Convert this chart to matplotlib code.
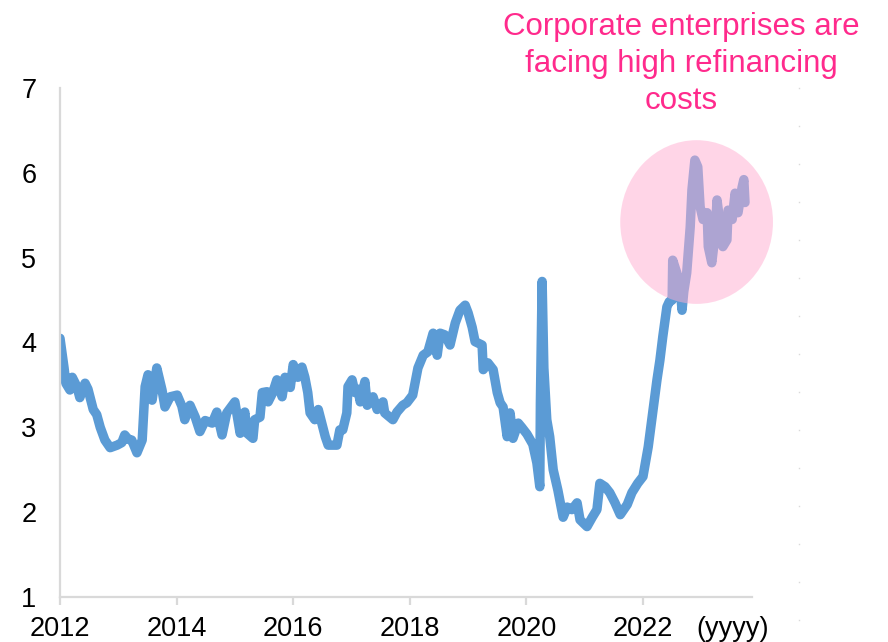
import matplotlib
matplotlib.use("Agg")
import matplotlib.pyplot as plt
from matplotlib.patches import Ellipse
from matplotlib.lines import Line2D
import matplotlib.transforms as mtransforms

plt.rcParams['font.family'] = ['Liberation Sans', 'DejaVu Sans']

# ---- data ----
years = [2012.00, 2012.03, 2012.07, 2012.10, 2012.17, 2012.21, 2012.29, 2012.34, 2012.43, 2012.48,
         2012.57, 2012.63, 2012.69, 2012.77, 2012.86, 2012.98, 2013.06, 2013.11, 2013.17, 2013.23,
         2013.32, 2013.41, 2013.46, 2013.51, 2013.58, 2013.66, 2013.75, 2013.80, 2013.89, 2014.01,
         2014.09, 2014.14, 2014.23, 2014.32, 2014.40, 2014.49, 2014.61, 2014.69, 2014.78, 2014.86,
         2015.00, 2015.09, 2015.17, 2015.21, 2015.31, 2015.34, 2015.43, 2015.47, 2015.55, 2015.57,
         2015.65, 2015.72, 2015.81, 2015.86, 2015.95, 2016.00, 2016.08, 2016.15, 2016.20, 2016.25,
         2016.29, 2016.37, 2016.43, 2016.49, 2016.55, 2016.60, 2016.75, 2016.80, 2016.85, 2016.92,
         2016.94, 2017.01, 2017.06, 2017.11, 2017.15, 2017.23, 2017.27, 2017.37, 2017.44, 2017.54,
         2017.57, 2017.71, 2017.78, 2017.88, 2017.95, 2018.05, 2018.14, 2018.23, 2018.31, 2018.40,
         2018.47, 2018.52, 2018.60, 2018.69, 2018.78, 2018.86, 2018.95, 2019.00, 2019.07, 2019.12,
         2019.24, 2019.26, 2019.34, 2019.43, 2019.50, 2019.55, 2019.60, 2019.67, 2019.72, 2019.77,
         2019.86, 2019.92, 2020.01, 2020.11, 2020.18, 2020.23, 2020.24, 2020.27, 2020.30, 2020.35,
         2020.40, 2020.46, 2020.54, 2020.63, 2020.70, 2020.78, 2020.87, 2020.92, 2021.04, 2021.13,
         2021.21, 2021.26, 2021.35, 2021.43, 2021.52, 2021.61, 2021.73, 2021.81, 2021.91, 2022.00,
         2022.09, 2022.15, 2022.24, 2022.29, 2022.34, 2022.41, 2022.45, 2022.50, 2022.51, 2022.58,
         2022.63, 2022.67, 2022.70, 2022.75, 2022.81, 2022.84, 2022.89, 2022.94, 2022.98, 2023.03,
         2023.10, 2023.12, 2023.18, 2023.24, 2023.27, 2023.32, 2023.37, 2023.44, 2023.46, 2023.53,
         2023.58, 2023.63, 2023.70, 2023.73, 2023.75]
values = [4.05, 3.90, 3.70, 3.52, 3.44, 3.59, 3.48, 3.35, 3.52, 3.45,
          3.21, 3.15, 3.00, 2.85, 2.76, 2.79, 2.82, 2.91, 2.86, 2.85,
          2.70, 2.85, 3.48, 3.62, 3.32, 3.70, 3.44, 3.24, 3.36, 3.38,
          3.25, 3.09, 3.26, 3.12, 2.95, 3.08, 3.05, 3.18, 2.91, 3.17,
          3.30, 2.93, 3.18, 2.93, 2.87, 3.09, 3.12, 3.41, 3.42, 3.30,
          3.41, 3.56, 3.36, 3.59, 3.47, 3.74, 3.59, 3.71, 3.59, 3.41,
          3.17, 3.09, 3.21, 3.05, 2.89, 2.79, 2.79, 2.97, 2.97, 3.17,
          3.48, 3.56, 3.41, 3.45, 3.30, 3.54, 3.26, 3.36, 3.21, 3.30,
          3.17, 3.09, 3.18, 3.26, 3.29, 3.38, 3.70, 3.85, 3.89, 4.11,
          3.85, 4.11, 4.09, 3.97, 4.23, 4.38, 4.44, 4.35, 4.18, 4.01,
          3.97, 3.68, 3.76, 3.68, 3.41, 3.29, 3.24, 2.89, 3.17, 2.87,
          3.05, 3.00, 2.92, 2.80, 2.58, 2.30, 3.29, 4.72, 3.70, 3.09,
          2.89, 2.50, 2.26, 1.94, 2.06, 2.03, 2.11, 1.91, 1.83, 1.94,
          2.03, 2.34, 2.30, 2.23, 2.11, 1.97, 2.09, 2.23, 2.34, 2.42,
          2.77, 3.09, 3.56, 3.79, 4.07, 4.42, 4.48, 4.50, 4.97, 4.82,
          4.70, 4.38, 4.60, 4.82, 5.36, 5.80, 6.15, 6.07, 5.60, 5.45,
          5.53, 5.13, 4.94, 5.29, 5.68, 5.41, 5.13, 5.21, 5.56, 5.45,
          5.76, 5.53, 5.83, 5.92, 5.65]
xtick_years = [2012, 2014, 2016, 2018, 2020, 2022]
xtick_labels = ['2012', '2014', '2016', '2018', '2020', '2022']
yticks = [1, 2, 3, 4, 5, 6, 7]
annotation = "Corporate enterprises are\nfacing high refinancing\ncosts"
x_unit = "(yyyy)"

LINE = '#5B9BD5'
GRID = '#D9D9D9'
PINK_TEXT = '#FF2A8C'

fig = plt.figure(figsize=(8.88, 6.42), dpi=100)
ax = fig.add_axes([60/888, 45/642, (752-60)/888, (597-88)/642])

ax.plot(years, values, color=LINE, lw=6.8, solid_joinstyle='round',
        solid_capstyle='round', zorder=2)

ax.add_patch(Ellipse((2022.92, 5.42), 2.62, 1.93, facecolor=(1.0, 0.68, 0.82),
                     edgecolor='none', alpha=0.5, zorder=3, clip_on=False))

ax.set_xlim(2012, 2023.87)
ax.set_ylim(1, 7)
ax.set_xticks(xtick_years)
ax.set_xticklabels(xtick_labels)
ax.set_yticks(yticks)

for s in ['top', 'right']:
    ax.spines[s].set_visible(False)
for s in ['left', 'bottom']:
    ax.spines[s].set_color(GRID)
    ax.spines[s].set_linewidth(1.6)

ax.tick_params(axis='x', length=6, width=1.6, color=GRID, pad=8, labelsize=19.5)
ax.tick_params(axis='y', length=0, pad=17, labelsize=19.5)

trans = mtransforms.offset_copy(ax.get_xaxis_transform(), fig=fig, x=0, y=-14, units='points')
ax.text(2023.53, 0, x_unit, transform=trans, ha='center', va='top', fontsize=19.5)

fig.text(681/888, 1 - 12/642, annotation, ha='center', va='top', fontsize=22.5,
         color=PINK_TEXT, linespacing=1.3)

# faint dotted vertical line at right
ys = [(642 - (88 + 38*i))/642 for i in range(15)]
fig.add_artist(Line2D([799/888]*15, ys, ls='none', marker='s', ms=1.0,
                      mec='none', mfc='#DADADA', transform=fig.transFigure))

fig.savefig('out.png', dpi=100)
